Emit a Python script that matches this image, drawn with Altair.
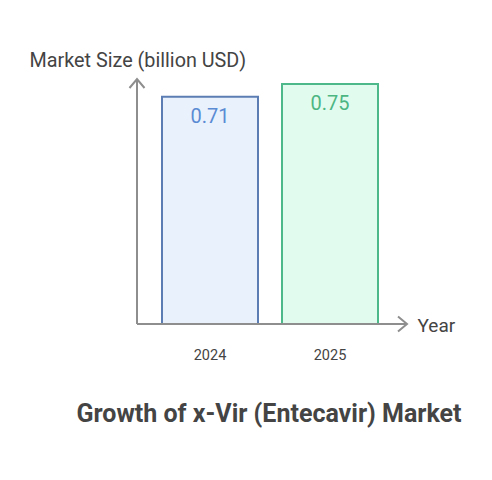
import altair as alt
import pandas as pd

years = ["2024", "2025"]
values = [0.71, 0.75]
labels = ["0.71", "0.75"]
fills = ["#E9F1FD", "#E2FBEF"]
strokes = ["#5B7DB3", "#4DB98A"]
text_colors = ["#5A8BD3", "#4CB682"]
y_max = 0.765625

title_text = "Growth of x-Vir (Entecavir) Market"
y_title = "Market Size (billion USD)"
x_title = "Year"

df = pd.DataFrame({"year": years, "value": values, "label": labels})
one = pd.DataFrame({"a": [0]})

W, H = 270, 245
AXIS_GRAY = "#8E8E8E"
TEXT = "#444444"
FONT = "Roboto"

x_enc = alt.X(
    "year:N",
    sort=years,
    scale=alt.Scale(paddingInner=0.2, paddingOuter=0.225, align=0.463),
    axis=alt.Axis(
        title=x_title, domain=False, ticks=False, tickSize=0, labelAngle=0,
        labelPadding=24, labelFontSize=14.5, labelColor=TEXT, labelFont=FONT,
        titleFontSize=19, titleFontWeight="normal", titleColor=TEXT, titleFont=FONT,
        titleAnchor="start", titleAlign="left", titleBaseline="alphabetic",
        titleX=280, titleY=7,
    ),
)
y_enc = alt.Y(
    "value:Q",
    scale=alt.Scale(domain=[0, y_max], nice=False, zero=True),
    axis=alt.Axis(
        title=y_title, labels=False, ticks=False, domain=False, grid=False,
        titleAngle=0, titleFontSize=19.8, titleFontWeight="normal", titleColor=TEXT,
        titleFont=FONT, titleAlign="left", titleBaseline="alphabetic",
        titleAnchor="start", titleX=-108, titleY=-13,
    ),
)

bars = alt.Chart(df).mark_bar(strokeWidth=2).encode(
    x=x_enc,
    y=y_enc,
    fill=alt.Fill("year:N", scale=alt.Scale(domain=years, range=fills), legend=None),
    stroke=alt.Stroke("year:N", scale=alt.Scale(domain=years, range=strokes), legend=None),
)

texts = alt.Chart(df).mark_text(
    fontSize=20, font=FONT, baseline="alphabetic", dy=26
).encode(
    x=alt.X("year:N", sort=years),
    y=alt.Y("value:Q"),
    text="label:N",
    color=alt.Color("year:N", scale=alt.Scale(domain=years, range=text_colors), legend=None),
)

y_rule = alt.Chart(one).mark_rule(color=AXIS_GRAY, strokeWidth=2).encode(
    x=alt.value(0), y=alt.value(0), y2=alt.value(H)
)
x_rule = alt.Chart(one).mark_rule(color=AXIS_GRAY, strokeWidth=2).encode(
    x=alt.value(0), x2=alt.value(W), y=alt.value(H)
)
x_arrow = alt.Chart(one).mark_point(
    shape="M-1.2,-1L0,0L-1.2,1", size=225, filled=False, color=AXIS_GRAY,
    strokeWidth=2, opacity=1,
).encode(x=alt.value(W), y=alt.value(H))
y_arrow = alt.Chart(one).mark_point(
    shape="M-1,1.2L0,0L1,1.2", size=225, filled=False, color=AXIS_GRAY,
    strokeWidth=2, opacity=1,
).encode(x=alt.value(0), y=alt.value(0))

chart = alt.layer(bars, texts, y_rule, x_rule, x_arrow, y_arrow).resolve_scale(
    color="independent"
).properties(
    width=W,
    height=H,
    autosize=alt.AutoSizeParams(type="none"),
    padding={"left": 129, "top": 71, "right": 77, "bottom": 148},
    title=alt.TitleParams(
        text=title_text, orient="bottom", anchor="middle", fontSize=25,
        fontWeight="bold", color=TEXT, font=FONT, offset=40, dx=-3,
    ),
).configure_view(stroke=None)

chart.save("out.html", embed_options={"renderer": "svg", "actions": False})
